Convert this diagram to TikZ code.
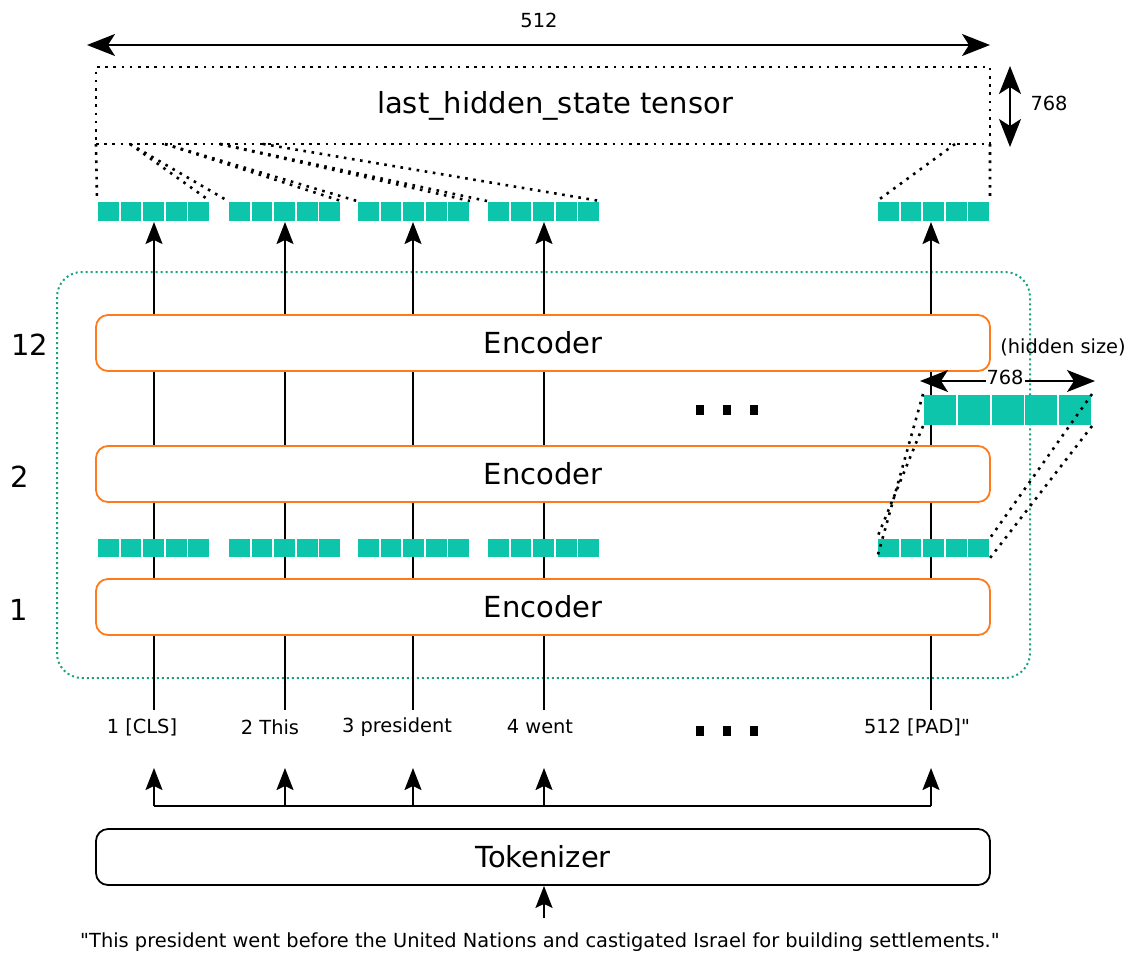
\documentclass[tikz,border=0pt]{standalone}
\usepackage{fontspec}
\setmainfont{DejaVu Sans}
\usetikzlibrary{arrows.meta,calc}
\definecolor{tealc}{RGB}{12,197,170}
\definecolor{encor}{RGB}{255,122,26}
\definecolor{grn}{RGB}{22,163,128}
\tikzset{
  bigtxt/.style={font=\fontsize{29}{34}\selectfont},
  smalltxt/.style={font=\fontsize{19.4}{23}\selectfont},
  encbox/.style={draw=encor, line width=1.8pt, rounded corners=12pt, fill=white, minimum width=894pt, minimum height=56pt, bigtxt, inner sep=0pt},
  tokbox/.style={draw=black, line width=1.8pt, rounded corners=12pt, fill=white, minimum width=894pt, minimum height=56pt, bigtxt, inner sep=0pt},
  blkdots/.style={line width=2.6pt, dash pattern=on 2.6pt off 5.6pt},
  grndots/.style={draw=grn, line width=2pt, dash pattern=on 2pt off 3pt, rounded corners=25pt},
  plainline/.style={line width=1.8pt},
  upar/.style={line width=1.8pt, -{Stealth[length=22pt,width=17pt,inset=4pt]}},
  bigar/.style={line width=1.8pt, {Stealth[length=28pt,width=22pt,inset=7pt]}-{Stealth[length=28pt,width=22pt,inset=7pt]}},
  sqr/.style={fill=black, minimum width=8pt, minimum height=10pt, inner sep=0pt},
}
\newcommand\cellrow[5]{% name, left x, top y, cell width, height
  \foreach \i in {0,...,4}{\fill[tealc] ({#2+\i*#4+0.9},{#3+0.9}) rectangle ({#2+(\i+1)*#4-0.9},{#3+#5-0.9});}
  \node[inner sep=0pt,outer sep=0pt,minimum width={5*#4*1pt},minimum height={#5*1pt}] (#1) at ({#2+2.5*#4},{#3+#5/2}) {};
}
\begin{document}
\begin{tikzpicture}[x=1pt,y=-1pt]
\useasboundingbox (0,0) rectangle (1131,954);

% green dotted container
\draw[grndots] (57,272) rectangle (1030,678);

% token coordinates
\coordinate (b1) at (154,710);
\coordinate (b2) at (285,710);
\coordinate (b3) at (413,710);
\coordinate (b4) at (544,710);
\coordinate (b5) at (931,710);

% top cell rows
\cellrow{top1}{97}{201}{22.6}{21}
\cellrow{top2}{228}{201}{22.6}{21}
\cellrow{top3}{357}{201}{22.6}{21}
\cellrow{top4}{487}{201}{22.6}{21}
\cellrow{top5}{877}{201}{22.6}{21}

% vertical lines with arrows
\foreach \k in {1,...,5}{
  \draw[upar] (b\k) -- (b\k |- top\k.south);
}

% encoders
\node[encbox] (enc12) at (543,343) {Encoder};
\node[encbox] (enc2) at (543,474) {Encoder};
\node[encbox] (enc1) at (543,607) {Encoder};

% middle cell rows
\cellrow{mid1}{97}{538}{22.6}{20}
\cellrow{mid2}{228}{538}{22.6}{20}
\cellrow{mid3}{357}{538}{22.6}{20}
\cellrow{mid4}{487}{538}{22.6}{20}
\cellrow{mid5}{877}{538}{22.6}{20}

% enlarged cell row
\cellrow{bigrow}{923}{394}{33.8}{32}

% dotted zoom lines
\draw[blkdots] (bigrow.north west) -- (mid5.south west);
\draw[blkdots] (bigrow.south west) -- (mid5.north west);
\draw[blkdots] (bigrow.north east) -- (mid5.north east);
\draw[blkdots] (bigrow.south east) -- (mid5.south east);

% hidden size arrow
\coordinate (hs1) at (920,381);
\coordinate (hs2) at (1095,381);
\draw[bigar] (hs1) -- (hs2);
\node[smalltxt, fill=white, inner sep=1pt] (hs768) at (1005,377) {768};
\node[smalltxt] (hslab) at (1063,347) {(hidden size)};

% ellipses
\node[sqr] (e1) at (700,410) {};
\node[sqr] (e2) at (727,410) {};
\node[sqr] (e3) at (754,410) {};
\node[sqr] (f1) at (700,731) {};
\node[sqr] (f2) at (727,731) {};
\node[sqr] (f3) at (754,731) {};

% layer labels
\node[bigtxt] (l12) at (30,345) {12};
\node[bigtxt] (l2) at (20,477) {2};
\node[bigtxt] (l1) at (19,610) {1};

% last hidden state box
\node[draw, blkdots, minimum width=894pt, minimum height=77pt, inner sep=0pt] (lhs) at (543,105.5) {};
\node[bigtxt] (lhstxt) at (555,106) {last\_hidden\_state tensor};

\coordinate (s0) at (96,144);
\coordinate (s1) at (130,144);
\coordinate (s2) at (165,144);
\coordinate (s3) at (220,144);
\coordinate (s4) at (263,144);
\coordinate (s5) at (955,144);
\coordinate (s6) at (990,144);
\draw[blkdots] (s0) -- (top1.north west);
\draw[blkdots] (s1) -- (top1.north east);
\draw[blkdots] (s1) -- (top2.north west);
\draw[blkdots] (s2) -- (top2.north east);
\draw[blkdots] (s2) -- (top3.north west);
\draw[blkdots] (s3) -- (top3.north east);
\draw[blkdots] (s3) -- (top4.north west);
\draw[blkdots] (s4) -- (top4.north east);
\draw[blkdots] (s5) -- (top5.north west);
\draw[blkdots] (s6) -- (top5.north east);

% 512 arrow
\coordinate (w1) at (87,45);
\coordinate (w2) at (990,45);
\draw[bigar] (w1) -- (w2);
\node[smalltxt] (w512) at (539,20) {512};

% 768 arrow
\coordinate (v1) at (1010,66);
\coordinate (v2) at (1010,147);
\draw[bigar] (v1) -- (v2);
\node[smalltxt] (v768) at (1049,103) {768};

% token labels
\node[smalltxt] (t1) at (142,727) {1 [CLS]};
\node[smalltxt] (t2) at (270,727) {2 This};
\node[smalltxt] (t3) at (397,727) {3 president};
\node[smalltxt] (t4) at (540,727) {4 went};
\node[smalltxt] (t5) at (917,727) {512 [PAD]\textquotedbl};

% tokenizer fan
\coordinate (h1) at (154,806);
\coordinate (h2) at (285,806);
\coordinate (h3) at (413,806);
\coordinate (h4) at (544,806);
\coordinate (h5) at (931,806);
\draw[plainline] (h1) -- (h5);
\foreach \k in {1,...,5}{
  \draw[upar] (h\k) -- ++(0,-38);
}

% tokenizer
\node[tokbox] (tok) at (543,857) {Tokenizer};
\node[smalltxt] (sent) at (540,942) {\textquotedbl This president went before the United Nations and castigated Israel for building settlements.\textquotedbl};
\coordinate (sa) at (544,918);
\draw[upar] (sa) -- (sa |- tok.south);
\end{tikzpicture}
\end{document}
